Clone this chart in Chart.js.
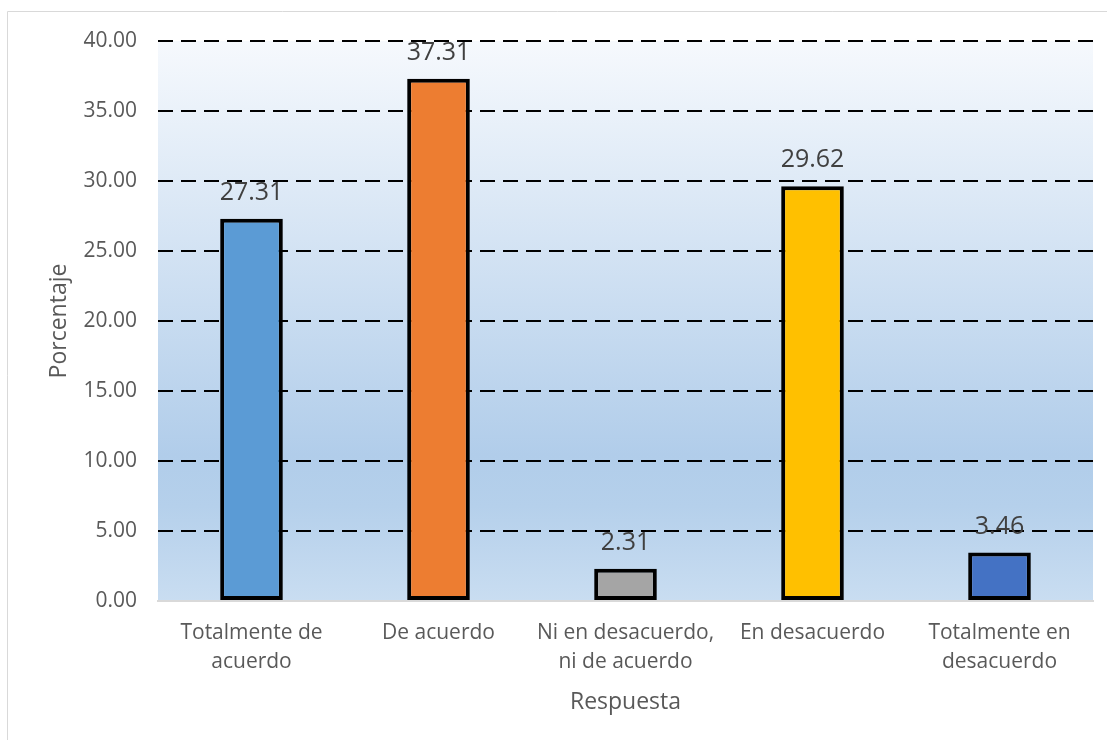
<!DOCTYPE html>
<html>
<head>
<meta charset="utf-8">
<script src="https://cdn.jsdelivr.net/npm/chart.js@4.4.1/dist/chart.umd.min.js"></script>
<style>
html,body{margin:0;padding:0;background:#fff;}
#wrap{width:1107px;height:740px;position:relative;}
</style>
</head>
<body>
<div id="wrap"><canvas id="c" width="1107" height="740"></canvas></div>
<script>
const categories = [
  ['Totalmente de', 'acuerdo'],
  'De acuerdo',
  ['Ni en desacuerdo,', 'ni de acuerdo'],
  'En desacuerdo',
  ['Totalmente en', 'desacuerdo']
];
const values = [27.31, 37.31, 2.31, 29.62, 3.46];
const barColors = ['#5b9bd5', '#ed7d31', '#a5a5a5', '#ffc000', '#4472c4'];
const yTicks = [0, 5, 10, 15, 20, 25, 30, 35, 40];
const xTitle = 'Respuesta';
const yTitle = 'Porcentaje';

const FONT = "'Open Sans', sans-serif";
const TXT = '#595959';

const bgPlugin = {
  id: 'bg',
  beforeDraw(chart) {
    const {ctx, chartArea: a} = chart;
    ctx.save();
    ctx.strokeStyle = '#d9d9d9';
    ctx.lineWidth = 1;
    ctx.beginPath();
    ctx.moveTo(7.5, 740);
    ctx.lineTo(7.5, 11.5);
    ctx.lineTo(1107, 11.5);
    ctx.stroke();
    const g = ctx.createLinearGradient(0, a.top, 0, a.bottom);
    g.addColorStop(0, '#f6f9fd');
    g.addColorStop(0.74, '#b1cdea');
    g.addColorStop(0.83, '#b5d0eb');
    g.addColorStop(1, '#c9ddf1');
    ctx.fillStyle = g;
    ctx.fillRect(a.left, a.top, a.right - a.left, a.bottom - a.top);
    ctx.restore();
  }
};

const labelPlugin = {
  id: 'vals',
  afterDatasetsDraw(chart) {
    const {ctx} = chart;
    const meta = chart.getDatasetMeta(0);
    ctx.save();
    ctx.font = "25px " + FONT;
    ctx.fillStyle = '#404040';
    ctx.textAlign = 'center';
    ctx.textBaseline = 'alphabetic';
    meta.data.forEach((el, i) => {
      ctx.fillText(values[i].toFixed(2), el.x, el.y - 19);
    });
    ctx.restore();
  }
};

new Chart(document.getElementById('c'), {
  type: 'bar',
  data: {
    labels: categories,
    datasets: [{
      data: values,
      backgroundColor: barColors,
      borderColor: '#000',
      borderWidth: 4,
      borderSkipped: false,
      barPercentage: 0.335,
      categoryPercentage: 1
    }]
  },
  options: {
    responsive: false,
    animation: false,
    events: [],
    layout: {padding: {left: 0, top: 41, right: 14, bottom: 0}},
    plugins: {legend: {display: false}, tooltip: {enabled: false}},
    scales: {
      x: {
        grid: {display: false, drawTicks: false},
        border: {display: true, color: '#d9d9d9', width: 2},
        ticks: {
          color: TXT,
          font: {family: FONT, size: 21, lineHeight: 1.4},
          padding: 17,
          maxRotation: 0,
          autoSkip: false
        },
        title: {
          display: true, text: xTitle, color: TXT,
          font: {family: FONT, size: 23, lineHeight: 1.2},
          padding: {top: 0, bottom: 24}
        },
        afterFit(s) { s.height = 139; }
      },
      y: {
        min: 0, max: 40,
        afterBuildTicks(s) { s.ticks = yTicks.map(v => ({value: v})); },
        grid: {
          drawTicks: false,
          color: ctx => ctx.tick && ctx.tick.value === 0 ? 'rgba(0,0,0,0)' : '#000',
          lineWidth: 2
        },
        border: {display: false, dash: [15, 8]},
        ticks: {
          color: TXT,
          font: {family: FONT, size: 21},
          padding: 21,
          callback: v => Number(v).toFixed(2)
        },
        title: {
          display: true, text: yTitle, color: TXT,
          font: {family: FONT, size: 23, lineHeight: 1.2},
          padding: {top: 46, bottom: 0}
        },
        afterFit(s) { s.width = 158; }
      }
    }
  },
  plugins: [bgPlugin, labelPlugin]
});
</script>
</body>
</html>
